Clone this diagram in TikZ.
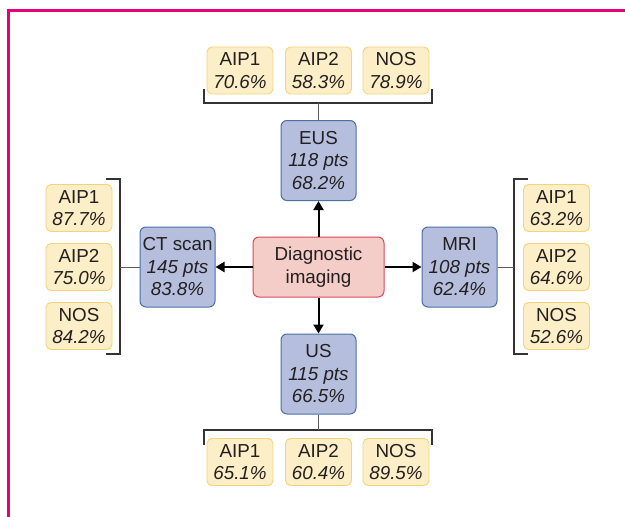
\documentclass[tikz,border=0pt]{standalone}
\usepackage{fontspec}
\setmainfont{Liberation Sans}
\usetikzlibrary{arrows.meta}
\definecolor{framec}{HTML}{E4007C}
\definecolor{yfill}{HTML}{FCEEC6}
\definecolor{yline}{HTML}{F6D27A}
\definecolor{bfill}{HTML}{B5BFDD}
\definecolor{bline}{HTML}{4A6FA5}
\definecolor{pfill}{HTML}{F4CDC9}
\definecolor{pline}{HTML}{D8475C}
\definecolor{txt}{HTML}{231F20}
\definecolor{brk}{HTML}{333333}
\begin{document}
\begin{tikzpicture}[x=1pt,y=-1pt,
  every node/.style={inner sep=0pt, align=center, text=txt, font=\fontsize{18.8}{22.5}\selectfont},
  ybox/.style={draw=yline, fill=yfill, rounded corners=5pt, minimum width=66pt, minimum height=47pt, line width=0.9pt},
  bbox/.style={draw=bline, fill=bfill, rounded corners=6pt, minimum width=75pt, minimum height=80pt, line width=1pt},
  pbox/.style={draw=pline, fill=pfill, rounded corners=6pt, minimum width=131pt, minimum height=60pt, line width=1pt},
  brack/.style={draw=brk, line width=1.2pt},
  stem/.style={draw=brk!80, line width=1pt},
  arr/.style={draw=black, line width=2pt, -{Triangle[length=9pt,width=10pt]}}
]
\useasboundingbox (0,0) rectangle (625,517);
\draw[framec, line width=3pt] (8,517) -- (8,10) -- (625,10);

% centre
\node[pbox] (diag) at (318.5,267) {Diagnostic\\imaging};
\node[bbox] (eus) at (318.5,160.5) {EUS\\\textit{118 pts}\\\textit{68.2\%}};
\node[bbox] (us) at (318.5,374) {US\\\textit{115 pts}\\\textit{66.5\%}};
\node[bbox] (ct) at (177.5,267) {CT scan\\\textit{145 pts}\\\textit{83.8\%}};
\node[bbox] (mri) at (459.5,267) {MRI\\\textit{108 pts}\\\textit{62.4\%}};

\draw[arr] (diag.north) -- (eus.south);
\draw[arr] (diag.south) -- (us.north);
\draw[arr] (diag.west) -- (ct.east);
\draw[arr] (diag.east) -- (mri.west);

% top group
\node[ybox] (tA1) at (240,70.5) {AIP1\\\textit{70.6\%}};
\node[ybox] (tA2) at (318.5,70.5) {AIP2\\\textit{58.3\%}};
\node[ybox] (tN) at (396,70.5) {NOS\\\textit{78.9\%}};
\coordinate (tL) at (204,89);
\coordinate (tR) at (432,89);
\coordinate (tM) at (318.5,103);
\draw[brack] (tL) -- (204,103) -- (432,103) -- (tR);
\draw[stem] (tM) -- (eus.north);

% bottom group
\node[ybox] (bA1) at (240,462) {AIP1\\\textit{65.1\%}};
\node[ybox] (bA2) at (318.5,462) {AIP2\\\textit{60.4\%}};
\node[ybox] (bN) at (396,462) {NOS\\\textit{89.5\%}};
\coordinate (bL) at (204,445);
\coordinate (bR) at (432,445);
\coordinate (bM) at (318.5,430);
\draw[brack] (bL) -- (204,430) -- (432,430) -- (bR);
\draw[stem] (us.south) -- (bM);

% left group
\node[ybox] (lA1) at (79,208) {AIP1\\\textit{87.7\%}};
\node[ybox] (lA2) at (79,267) {AIP2\\\textit{75.0\%}};
\node[ybox] (lN) at (79,326) {NOS\\\textit{84.2\%}};
\coordinate (lT) at (106,179);
\coordinate (lB) at (106,354);
\coordinate (lM) at (120,267);
\draw[brack] (lT) -- (120,179) -- (120,354) -- (lB);
\draw[stem] (lM) -- (ct.west);

% right group
\node[ybox] (rA1) at (556.5,208) {AIP1\\\textit{63.2\%}};
\node[ybox] (rA2) at (556.5,267) {AIP2\\\textit{64.6\%}};
\node[ybox] (rN) at (556.5,326) {NOS\\\textit{52.6\%}};
\coordinate (rT) at (528,179);
\coordinate (rB) at (528,354);
\coordinate (rM) at (514,267);
\draw[brack] (rT) -- (514,179) -- (514,354) -- (rB);
\draw[stem] (mri.east) -- (rM);
\end{tikzpicture}
\end{document}
